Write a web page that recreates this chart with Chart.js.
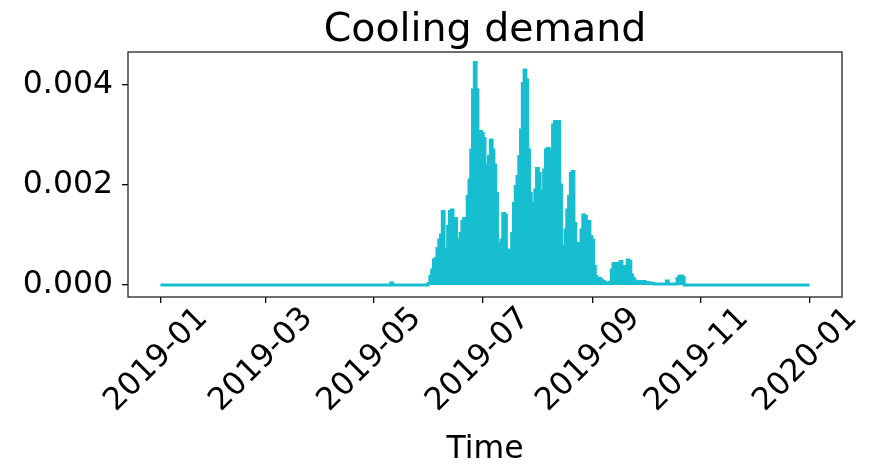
<!DOCTYPE html>
<html>
<head>
<meta charset="utf-8">
<script src="https://cdn.jsdelivr.net/npm/chart.js@4.4.1/dist/chart.umd.min.js"></script>
<style>
  html, body { margin: 0; padding: 0; background: #fff; }
</style>
</head>
<body>
<canvas id="demand" width="872" height="467"></canvas>
<script>
// day of year (0 = 2019-01-01) and daily peak cooling demand
const quietDays = [0, 129, 130, 131];
const quietDemand = [0, 0, 0.00004, 0];

// one value per day starting at day 150 (end of May)
const summerStart = 150;
const summerDemand = [
  0, 0.00003, 0.00017, 0.0003, 0.0005, 0.00053, 0.00073, 0.0009, 0.001, 0.00147,
  0.0007, 0.0007, 0.00117, 0.00147, 0.0015, 0.00097, 0.00133, 0.0007, 0.0009, 0.00103,
  0.00127, 0.00133, 0.00133, 0.00177, 0.0021, 0.0027, 0.0039, 0.00445, 0.0039, 0.00303,
  0.00307, 0.00303, 0.00293, 0.0024, 0.0022, 0.00257, 0.0029, 0.0027, 0.0024, 0.00183,
  0.00083, 0.00043, 0.0009, 0.00143, 0.0014, 0.0007, 0.00033, 0.0007, 0.00103, 0.00163,
  0.00197, 0.00217, 0.00257, 0.0031, 0.00403, 0.0043, 0.0041, 0.0027, 0.00183, 0.00117,
  0.00163, 0.0019, 0.00233, 0.00223, 0.0015, 0.00187, 0.0023, 0.0027, 0.00273, 0.00237,
  0.0027, 0.0032, 0.00327, 0.00327, 0.00327, 0.002, 0.00053, 0.00077, 0.0011, 0.0015,
  0.00177, 0.00223, 0.00227, 0.00123, 0.00083, 0.00083, 0.00083, 0.0011, 0.0014, 0.00137,
  0.0011, 0.00127, 0.00097, 0.0009, 0.00037, 0.00017, 0.0001, 0.00013, 0.0001, 0.00007,
  0.00005, 0.00003, 0.00003, 0.00005, 0.0003, 0.00043, 0.0004, 0.00043, 0.00037, 0.00047,
  0.0003, 0.00037, 0.00033, 0.0005, 0.00047, 0.0002, 0.00013, 0.00008, 0.00007, 0.00005,
  0.00006, 0.00007, 0.00007, 0.00005, 0.00005, 0.00004, 0.00004, 0.00003, 0.00002, 0.00002,
  0.00002, 0.00002, 0.00002, 0.00002, 0.00002, 0.00008, 0.00002, 0.00002, 0.00002, 0.00002,
  0.00002, 0.00013, 0.00017, 0.00018, 0.00015, 0
];

const tailDays = [365];
const tailDemand = [0];

const monthTicks = [0, 59, 120, 181, 243, 304, 365];
const monthLabels = ['2019-01', '2019-03', '2019-05', '2019-07', '2019-09', '2019-11', '2020-01'];
const demandTicks = [0, 0.002, 0.004];

const FONT = 'DejaVu Sans';
const cyan = '#17becf';

const points = [];
quietDays.forEach((d, i) => points.push({ x: d, y: quietDemand[i] }));
summerDemand.forEach((v, i) => points.push({ x: summerStart + i, y: v }));
tailDays.forEach((d, i) => points.push({ x: d, y: tailDemand[i] }));

const frame = {
  id: 'frame',
  afterDraw(chart) {
    const { ctx, chartArea: a } = chart;
    const xs = chart.scales.x;
    ctx.save();
    ctx.strokeStyle = '#222';
    ctx.lineWidth = 1.3;
    ctx.strokeRect(a.left, a.top, a.right - a.left, a.bottom - a.top);

    ctx.fillStyle = '#000';
    ctx.font = `39.5px "${FONT}"`;
    ctx.textAlign = 'center';
    ctx.textBaseline = 'alphabetic';
    ctx.fillText('Cooling demand', (a.left + a.right) / 2, 41);

    ctx.font = `31.5px "${FONT}"`;
    ctx.textBaseline = 'middle';
    monthTicks.forEach((v, i) => {
      const px = xs.getPixelForValue(v);
      ctx.save();
      ctx.translate(px - 4, a.bottom + 63);
      ctx.rotate(-Math.PI / 4);
      ctx.fillText(monthLabels[i], 0, 0);
      ctx.restore();
    });
    ctx.restore();
  }
};

const tickGrid = { drawOnChartArea: false, drawTicks: true, tickLength: 6, color: '#000', lineWidth: 1.3 };

new Chart(document.getElementById('demand'), {
  type: 'line',
  data: {
    datasets: [{
      data: points,
      borderColor: cyan,
      backgroundColor: cyan,
      borderWidth: 3,
      fill: 'origin',
      pointRadius: 0,
      stepped: 'middle',
    }]
  },
  options: {
    responsive: false,
    animation: false,
    devicePixelRatio: 1,
    layout: { padding: { top: 52, right: 30, left: 0, bottom: 0 } },
    plugins: {
      legend: { display: false },
      tooltip: { enabled: false },
      title: { display: false },
    },
    scales: {
      x: {
        type: 'linear',
        min: -18.25,
        max: 383.25,
        afterBuildTicks: s => { s.ticks = monthTicks.map(v => ({ value: v })); },
        afterFit: s => { s.height = 170; },
        ticks: { display: false },
        grid: tickGrid,
        border: { display: false },
        title: {
          display: true,
          text: 'Time',
          color: '#000',
          padding: 0,
          font: { family: FONT, size: 31.5, lineHeight: 1.1 },
        },
      },
      y: {
        type: 'linear',
        min: -0.00024,
        max: 0.00466,
        afterBuildTicks: s => { s.ticks = demandTicks.map(v => ({ value: v })); },
        afterFit: s => { s.width = 128; },
        ticks: {
          callback: v => v.toFixed(3),
          color: '#000',
          padding: 9,
          font: { family: FONT, size: 31.5 },
        },
        grid: tickGrid,
        border: { display: false },
      }
    }
  },
  plugins: [frame]
});
</script>
</body>
</html>
